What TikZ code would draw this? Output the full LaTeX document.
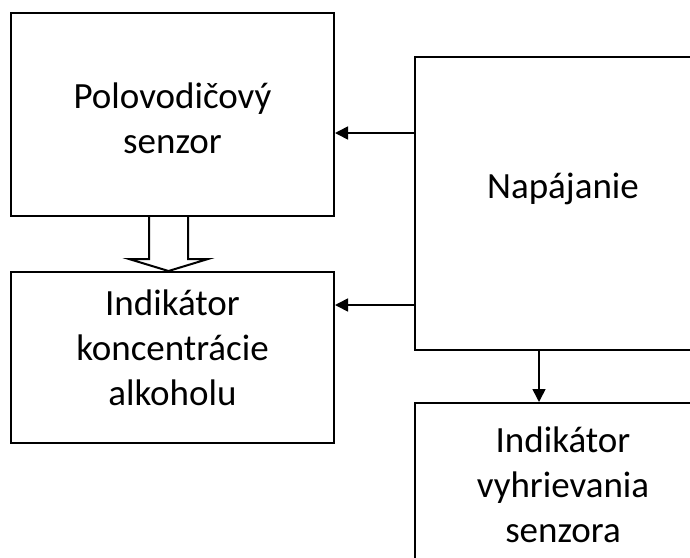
\documentclass[tikz,border=0pt]{standalone}
\usepackage{fontspec}
\setmainfont{Carlito}
\usepackage{tikz}
\usetikzlibrary{arrows.meta,positioning,calc}

\tikzset{
  blok/.style={draw,line width=2pt,inner sep=0pt},
  popis/.style={align=center,inner sep=0pt,font=\fontsize{37}{45}\selectfont},
  sipka/.style={line width=1.6pt,-{Triangle[length=13pt,width=13pt]}}
}

\begin{document}
\begin{tikzpicture}[x=1pt,y=-1pt]
        \useasboundingbox (0,0) rectangle (690,557);
        \clip (0,0) rectangle (690,557);
        \node[blok,minimum width=323pt,minimum height=203pt] (senzor) at (172.5,114.5) {};
        \node[blok,minimum width=323pt,minimum height=171pt] (indik) at (172.5,357.5) {};
        \node[blok,minimum width=296pt,minimum height=293pt] (napaj) at (563,203.5) {};
        \node[blok,minimum width=296pt,minimum height=164pt] (vyhr) at (563,485) {};
        \node[popis] (tsenzor) at ([yshift=-4pt]senzor.center) {Polovodičový\\senzor};
        \node[popis] (tindik) at ([yshift=10pt]indik.center) {Indikátor\\koncentrácie\\alkoholu};
        \node[popis] (tnapaj) at ([yshift=15pt]napaj.center) {Napájanie};
        \node[popis] (tvyhr) at (vyhr.center) {Indikátor\\vyhrievania\\senzora};
        % sipky od napajania
        \draw[sipka] ([yshift=70.5pt]napaj.west) coordinate (a1) -- (a1 -| senzor.east);
        \draw[sipka] ([yshift=-101.5pt]napaj.west) coordinate (a2) -- (a2 -| indik.east);
        \draw[sipka] ([xshift=-24pt]napaj.south) coordinate (a3) -- (a3 |- vyhr.north);
        % hruba sipka
        \draw[line width=2pt,fill=white,line join=miter] ([xshift=-23.5pt]senzor.south) -- ++(0,42) -- ++(-20,0)
          -- ($(indik.north)+(-4,0)$) -- ($(senzor.south)+(35.5,42)$) -- ++(-20,0) -- ++(0,-42);
\end{tikzpicture}
\end{document}
